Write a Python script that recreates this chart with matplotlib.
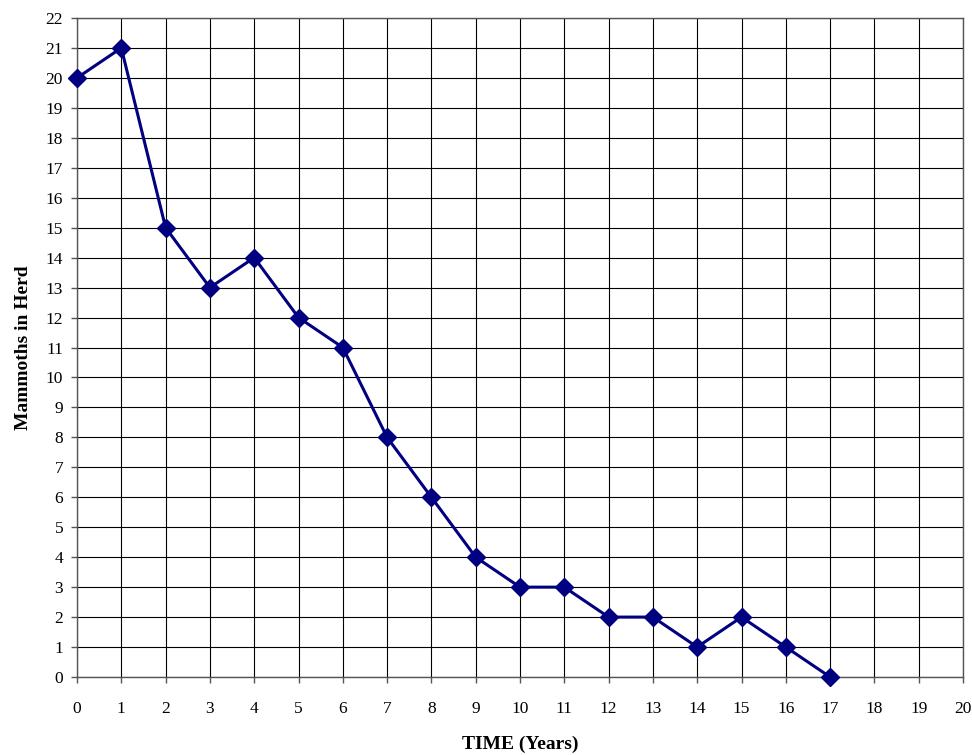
import matplotlib
matplotlib.use("Agg")
import matplotlib.pyplot as plt

# Herd size over time
years = [0, 1, 2, 3, 4, 5, 6, 7, 8, 9, 10, 11, 12, 13, 14, 15, 16, 17]
mammoths = [20, 21, 15, 13, 14, 12, 11, 8, 6, 4, 3, 3, 2, 2, 1, 2, 1, 0]

x_ticks = list(range(0, 21))
y_ticks = list(range(0, 23))

plt.rcParams["font.family"] = ["Liberation Serif", "DejaVu Serif"]

fig = plt.figure(figsize=(9.72, 7.55), dpi=100)
ax = fig.add_axes([77 / 972, 1 - 677 / 755, (963 - 77) / 972, (677 - 18) / 755])

ax.plot(years, mammoths, color="#000080", linewidth=2.2, marker="D",
        markersize=9, markerfacecolor="#000080", markeredgecolor="#000080",
        zorder=3, clip_on=False)

ax.set_xlim(0, 20)
ax.set_ylim(0, 22)
ax.set_xticks(x_ticks)
ax.set_yticks(y_ticks)
ax.tick_params(axis="both", direction="out", length=4, width=1,
               labelsize=12.5, color="#555555")
ax.tick_params(axis="x", pad=13)
ax.tick_params(axis="y", pad=6)
ax.grid(True, color="black", linewidth=0.8)
for sp in ax.spines.values():
    sp.set_color("#555555")
    sp.set_linewidth(1.0)

ax.set_xlabel("TIME (Years)", fontsize=14, fontweight="bold", labelpad=14)
ax.set_ylabel("Mammoths in Herd", fontsize=14, fontweight="bold", labelpad=10)

fig.savefig("out.png", dpi=100)
